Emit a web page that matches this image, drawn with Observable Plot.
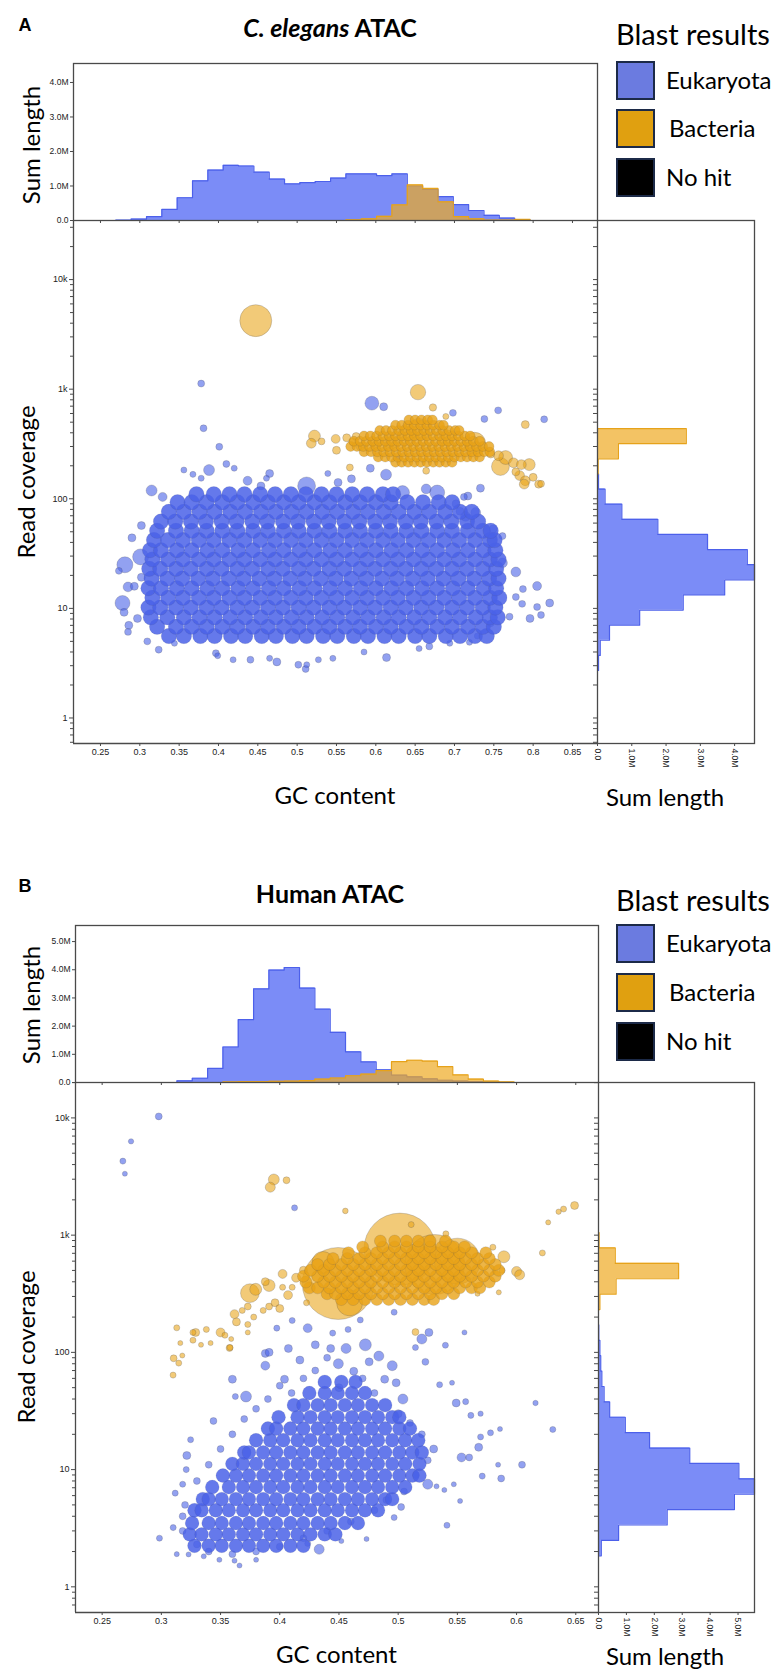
<!DOCTYPE html>
<html><head><meta charset="utf-8">
<script src="https://cdn.jsdelivr.net/npm/d3@7"></script>
<script src="https://cdn.jsdelivr.net/npm/@observablehq/plot@0.6"></script>
<style>
body{margin:0;background:#fff;}
#root{position:relative;width:774px;height:1671px;overflow:hidden;font-family:Lato,"Open Sans",sans-serif;color:#000;}
</style></head><body><div id="root"></div>
<script>
// ---------------- DATA ----------------
const legendNames = ["Eukaryota", "Bacteria", "No hit"];
const gcTicksA = [0.25,0.3,0.35,0.4,0.45,0.5,0.55,0.6,0.65,0.7,0.75,0.8,0.85];
const gcTicksB = [0.25,0.3,0.35,0.4,0.45,0.5,0.55,0.6,0.65];
const covMajor = [1,10,100,1000,10000];
const lenTicksA = [0,1e6,2e6,3e6,4e6];
const lenTicksB = [0,1e6,2e6,3e6,4e6,5e6];

// top histograms (sum length in M per GC bin)
const binA = {start:0.2695, width:0.0195};
const eukA_top = [0.01,0.04,0.11,0.32,0.66,1.15,1.46,1.6,1.58,1.4,1.2,1.06,1.1,1.13,1.23,1.35,1.35,1.3,1.35,1.0,0.9,0.69,0.46,0.29,0.15,0.07,0.02];
const eukA_topFirst = 0;
const bacA_top = [0.02,0.05,0.12,0.45,1.03,0.93,0.54,0.11,0.05,0.01,0.01,0.03];
const bacA_topFirst = 15;
const binB = {start:0.3132, width:0.01294};
const eukB_top = [0.06,0.15,0.5,1.26,2.23,3.32,3.99,4.08,3.35,2.6,1.78,1.09,0.73,0.45,0.26,0.2,0.13,0.08,0.05,0.03,0.01];
const eukB_topFirst = 0;
const bacB_top = [0.02,0.03,0.03,0.04,0.05,0.07,0.12,0.16,0.24,0.3,0.42,0.74,0.79,0.76,0.56,0.27,0.12,0.05,0.02];
const bacB_topFirst = 3;

// right histograms (sum length in M per log10 coverage bin, from the top bin down)
const logBinA = {top:2.641, width:0.138};
const bacA_right = [2.59,0.61,0.02];
const bacA_rightFirst = 0;
const eukA_right = [0.03,0.22,0.71,1.76,3.21,4.37,4.58,3.71,2.5,1.23,0.35,0.08,0.03];
const eukA_rightFirst = 3;
const logBinB = {top:3.022, width:0.1313};
const bacB_right = [0.02,0.6,2.87,0.63,0.05];
const bacB_rightFirst = 0;
const eukB_right = [0.01,0.05,0.08,0.12,0.2,0.4,0.96,1.83,3.27,5.03,5.59,4.87,2.46,0.72,0.1];
const eukB_rightFirst = 6;

// scatter: individual contigs [GC, coverage, length kb]
const eukA_pts = [
[0.378,1125,3],[0.381,440,3],[0.401,298,3],[0.356,183,2.3],[0.388,183,7.5],[0.3675,167,2.3],[0.41,208,3],[0.42,190,2.3],[0.378,154,2.3],[0.315,119,7.5],[0.329,104,5],
[0.595,745,12],[0.61,692,4],[0.698,608,3],[0.738,535,3],[0.7555,641,3],[0.814,531,3],[0.593,190,4],[0.569,152,4],[0.613,166,7.5],[0.629,233,2.3],[0.465,170,4],[0.461,154,2.3],
[0.539,170,2.3],[0.512,131,20],[0.678,114,14],[0.664,123,6],[0.733,125,4],[0.717,106,4],[0.634,114,12],[0.437,146,5],[0.454,131,4],[0.552,141,4],
[0.281,25,16],[0.278,11.2,14],[0.2734,22,3],[0.301,29.5,16],[0.29,44,4],[0.302,57,4],[0.285,15.7,6],[0.28,9.2,4],[0.286,7,4],[0.285,6.1,3],[0.3095,5,3],[0.324,4.2,3],[0.297,8.1,4],[0.293,15.9,4],[0.302,19.2,4],
[0.805,16,5],[0.821,11.2,4],[0.796,8.1,4],[0.81,8.7,3],[0.805,10.3,3],[0.786,11,3],[0.787,15,3],[0.778,21.5,6],[0.761,26,6],[0.761,45.7,3],[0.749,53,4],[0.778,12.7,3],[0.77,8.4,3],[0.746,7.3,3],[0.729,5.6,2.3],[0.719,4.9,2.3],
[0.727,75,6],[0.707,77,4],[0.714,69,6],[0.702,90,4],[0.712,104,3],
[0.4406,3.4,3],[0.4186,3.4,2.3],[0.4742,3.25,4],[0.465,3.5,2.3],[0.5015,3.06,3],[0.5108,2.8,3],[0.5122,3.06,2.3],[0.527,3.4,2.3],[0.5454,3.5,2.3],[0.6136,3.56,4],[0.3967,3.9,3],[0.399,3.7,2.3],[0.668,4.5,3],[0.655,4.3,2.3],[0.694,4.8,2.3],[0.585,4,2.3],[0.344,4.8,2.3]
];
// dense core, one row per coverage level: [coverage, [GC values]]
const eukA_coreSize = 15;
const eukA_core = [
[5.6,[0.337,0.356,0.377,0.395,0.416,0.434,0.455,0.473,0.494,0.512,0.533,0.551,0.572,0.59,0.611,0.629,0.65,0.668,0.689,0.707,0.726,0.741]],
[6.8,[0.322,0.346,0.366,0.385,0.405,0.424,0.444,0.463,0.483,0.502,0.522,0.541,0.561,0.58,0.6,0.619,0.639,0.658,0.678,0.697,0.717,0.736,0.75]],
[8.3,[0.314,0.335,0.356,0.376,0.395,0.415,0.434,0.454,0.473,0.493,0.512,0.532,0.551,0.571,0.59,0.61,0.629,0.649,0.668,0.688,0.707,0.727,0.745,0.755]],
[10.2,[0.311,0.326,0.346,0.365,0.385,0.404,0.424,0.443,0.463,0.482,0.502,0.521,0.541,0.56,0.58,0.599,0.619,0.638,0.658,0.677,0.697,0.716,0.736,0.752]],
[12.5,[0.316,0.336,0.355,0.375,0.394,0.414,0.433,0.453,0.472,0.492,0.511,0.531,0.55,0.57,0.589,0.609,0.628,0.648,0.667,0.687,0.706,0.726,0.745,0.757]],
[15.3,[0.311,0.327,0.347,0.366,0.386,0.405,0.425,0.444,0.464,0.483,0.503,0.522,0.542,0.561,0.581,0.6,0.62,0.639,0.659,0.678,0.698,0.717,0.737,0.753]],
[18.7,[0.315,0.335,0.354,0.374,0.393,0.413,0.432,0.452,0.471,0.491,0.51,0.53,0.549,0.569,0.588,0.608,0.627,0.647,0.666,0.686,0.705,0.725,0.744,0.756]],
[23,[0.312,0.326,0.346,0.365,0.385,0.404,0.424,0.443,0.463,0.482,0.502,0.521,0.541,0.56,0.58,0.599,0.619,0.638,0.658,0.677,0.697,0.716,0.736,0.753]],
[28,[0.316,0.336,0.355,0.375,0.394,0.414,0.433,0.453,0.472,0.492,0.511,0.531,0.55,0.57,0.589,0.609,0.628,0.648,0.667,0.687,0.706,0.726,0.745,0.756]],
[34,[0.313,0.327,0.347,0.366,0.386,0.405,0.425,0.444,0.464,0.483,0.503,0.522,0.542,0.561,0.581,0.6,0.62,0.639,0.659,0.678,0.698,0.717,0.737,0.752]],
[42,[0.318,0.336,0.355,0.375,0.394,0.414,0.433,0.453,0.472,0.492,0.511,0.531,0.55,0.57,0.589,0.609,0.628,0.648,0.667,0.687,0.706,0.726,0.745,0.751]],
[51,[0.322,0.346,0.366,0.385,0.405,0.424,0.444,0.463,0.483,0.502,0.522,0.541,0.561,0.58,0.6,0.619,0.639,0.658,0.678,0.697,0.717,0.736,0.746]],
[62,[0.327,0.345,0.365,0.384,0.404,0.423,0.443,0.462,0.482,0.501,0.521,0.54,0.56,0.579,0.599,0.618,0.638,0.657,0.677,0.696,0.716,0.73]],
[76,[0.337,0.356,0.376,0.395,0.415,0.434,0.454,0.473,0.493,0.512,0.532,0.551,0.571,0.59,0.61,0.629,0.649,0.668,0.688,0.707,0.722]],
[93,[0.348,0.366,0.385,0.405,0.424,0.444,0.463,0.483,0.502,0.522,0.541,0.561,0.58,0.6,0.619,0.64,0.66,0.68,0.697]],
[110,[0.372,0.394,0.414,0.433,0.453,0.472,0.492,0.511,0.531,0.55,0.57,0.589,0.609,0.622]]
];
const bacA_pts = [
[0.4474,4220,64],[0.6536,940,15],[0.6726,681,3.4],[0.79,475,4],[0.689,564,2.3],[0.522,373,9],[0.518,321,6],[0.531,334,3],[0.549,352,5],[0.55,277,4],[0.567,193,3],[0.664,180,3],
[0.7257,321,30],[0.7584,197,20],[0.765,238,12],[0.775,213,6],[0.785,205,6],[0.795,205,9],[0.7828,163,6],[0.79,146,6],[0.8,157,4],[0.807,136,4],[0.81,137,3],[0.7886,136,6],[0.778,176,4],[0.756,247,6],[0.746,256,4],
[0.563,360,4],[0.571,330,4],[0.58,300,4],[0.575,370,4],
[0.655,430,30],[0.64,400,20],[0.69,360,16],[0.62,330,12],[0.6,320,9]
];
const bacA_coreSize = 6;
const bacA_core = [
[215,[0.625,0.633,0.641,0.649,0.657,0.665,0.673,0.681,0.689,0.697]],
[240,[0.603,0.612,0.62,0.628,0.636,0.644,0.652,0.66,0.668,0.676,0.684,0.692,0.7,0.708,0.716,0.724,0.732]],
[268,[0.585,0.594,0.602,0.61,0.618,0.626,0.634,0.642,0.65,0.658,0.666,0.674,0.682,0.69,0.698,0.706,0.714,0.722,0.73,0.738,0.745]],
[300,[0.568,0.576,0.584,0.592,0.6,0.608,0.616,0.624,0.632,0.64,0.648,0.656,0.664,0.672,0.68,0.688,0.696,0.704,0.712,0.72,0.728,0.736,0.744]],
[335,[0.572,0.58,0.588,0.596,0.604,0.612,0.62,0.628,0.636,0.644,0.652,0.66,0.668,0.676,0.684,0.692,0.7,0.708,0.716,0.724,0.732]],
[375,[0.585,0.593,0.601,0.609,0.617,0.625,0.633,0.641,0.649,0.657,0.665,0.673,0.681,0.689,0.697,0.705,0.713,0.72]],
[420,[0.605,0.613,0.621,0.629,0.637,0.645,0.653,0.661,0.669,0.677,0.685,0.693,0.701,0.706]],
[470,[0.625,0.633,0.641,0.649,0.657,0.665,0.673,0.681,0.686]],
[525,[0.642,0.65,0.658,0.666,0.672]]
];

const eukB_pts = [
[0.2978,10300,3],[0.2744,6310,1.8],[0.2675,4280,2.3],[0.2692,3340,1.6],[0.4125,1710,2.3],[0.4966,220,2.3],[0.556,148,1.6],[0.5399,115,2.3],[0.526,148,4],[0.52,130,6.3],[0.5146,110,2.3],[0.523,83,3],[0.535,53,2.3],[0.5455,55,1.6],[0.549,37,4],[0.557,38,2.3],[0.616,37,1.8],[0.6306,22,2.3],[0.6046,11,3],[0.587,8.4,3],[0.5844,11,1.6],[0.571,8.8,2.3],[0.568,15.5,4],[0.56,12.7,3],[0.5535,12.7,5],[0.5696,19,2.3],[0.578,20.6,2.3],[0.586,22.2,1.6],[0.5614,29,2.3],[0.5696,30,1.8],
[0.5412,3.35,2.3],[0.5523,5.4,1.6],[0.547,7.5,1.6],[0.539,6.7,1.6],[0.5324,7.2,1.6],[0.525,7.5,6.3],[0.5025,4.8,3],[0.4966,3.9,2.3],[0.4733,2.56,1.6],[0.452,2.46,1.6],[0.4333,2.09,6.3],[0.4236,2.34,2.3],[0.38,1.7,1.6],[0.366,1.52,1.6],[0.3618,1.67,1.6],[0.349,1.7,1.6],[0.3358,1.82,1.6],[0.323,1.89,1.6],[0.313,1.9,1.6],[0.2984,2.6,2.3],[0.31,3.2,2.3],[0.3117,6.3,2.3],[0.3215,13.2,4],[0.3247,18,2.3],[0.321,10,2.3],[0.318,7.5,2.3],
[0.344,26,3],[0.36,59,4],[0.3625,42,2.3],[0.3715,42,7.5],[0.3878,98,4],[0.391,100,4],[0.3975,161,2.3],[0.4105,187,2.3],[0.4236,161,5],[0.4073,108,4],[0.3878,77,5],[0.404,59,4],[0.4447,146,2.3],[0.4577,157,2.3],[0.468,189,2.3],[0.4723,116,9],[0.4837,93,6.3],[0.495,77,6.3],[0.4886,59,4],[0.504,40,6.3],[0.4983,55,4],[0.4755,83,4],[0.456,108,6.3],[0.443,108,4],[0.43,116,4],[0.417,86,4],[0.4495,80,6.3],[0.4625,69,4],
[0.43,70,3],[0.44,90,3],[0.47,60,3],[0.41,45,3],[0.45,50,4],[0.48,45,3],[0.5,30,4],[0.51,25,3],[0.52,20,3],[0.53,15,4],[0.525,12,3],[0.515,9,3],[0.505,6.5,3],[0.49,5.5,3],[0.48,4.5,3],[0.46,3.6,3],[0.44,3.0,3],[0.42,2.6,3],[0.4,2.2,3],[0.38,2.0,3],[0.36,1.9,3],[0.34,2.0,3],[0.33,2.3,3],[0.318,3,3],[0.318,4,3],[0.32,5,3],[0.33,8,3],[0.34,11,3],[0.35,15,3],[0.36,20,3],[0.37,27,3],[0.38,33,3],[0.39,40,3],[0.4,52,3],[0.42,60,3]
];
const eukB_coreSize = 12;
const eukB_core = [
[2.24,[0.328,0.34,0.351,0.363,0.374,0.386,0.397,0.409,0.42]],
[2.8,[0.324,0.334,0.346,0.357,0.369,0.38,0.392,0.403,0.415,0.426,0.438,0.447]],
[3.5,[0.326,0.34,0.351,0.363,0.374,0.386,0.397,0.409,0.42,0.432,0.443,0.455,0.466]],
[4.5,[0.328,0.334,0.346,0.357,0.369,0.38,0.392,0.403,0.415,0.426,0.438,0.449,0.461,0.472,0.483]],
[5.6,[0.335,0.34,0.351,0.363,0.374,0.386,0.397,0.409,0.42,0.432,0.443,0.455,0.466,0.478,0.489,0.495]],
[7.1,[0.343,0.357,0.369,0.38,0.392,0.403,0.415,0.426,0.438,0.449,0.461,0.472,0.483,0.495,0.506]],
[8.9,[0.352,0.363,0.374,0.386,0.397,0.409,0.42,0.432,0.443,0.455,0.466,0.478,0.489,0.501,0.512,0.518]],
[11.2,[0.36,0.369,0.38,0.392,0.403,0.415,0.426,0.438,0.449,0.461,0.472,0.483,0.495,0.506,0.518]],
[14,[0.37,0.374,0.386,0.397,0.409,0.42,0.432,0.443,0.455,0.466,0.478,0.489,0.501,0.512,0.52]],
[17.8,[0.38,0.392,0.403,0.415,0.426,0.438,0.449,0.461,0.472,0.483,0.495,0.506,0.517]],
[22.4,[0.39,0.397,0.409,0.42,0.432,0.443,0.455,0.466,0.478,0.489,0.501,0.51]],
[28,[0.399,0.415,0.426,0.438,0.449,0.461,0.472,0.483,0.495,0.501]],
[35.5,[0.412,0.42,0.432,0.443,0.455,0.466,0.478,0.489]],
[45,[0.425,0.438,0.449,0.461,0.472]],
[56,[0.438,0.452,0.464]]
];
const bacB_pts = [
[0.4494,387,324],[0.5015,760,324],[0.5308,562,225],[0.55,600,132],[0.459,264,42],[0.4365,585,30],[0.3748,320,22],[0.3797,345,9],[0.4024,467,5],[0.391,372,9],[0.407,308,5],[0.3878,401,4],[0.3618,212,5],[0.3634,182,4],[0.3683,228,2.3],[0.373,246,3],[0.391,246,3],[0.386,228,2.3],[0.396,265,4],[0.4,237,4],[0.4024,359,2.3],[0.4138,433,5],[0.42,502,4],[0.4226,265,2.3],[0.4105,359,2.3],[0.373,173,2.3],[0.378,200,2.3],[0.3576,109,3],
[0.395,2985,7.5],[0.392,2565,6.3],[0.4057,2940,3],[0.4554,1610,2],[0.511,1230,2.3],[0.5403,1026,2.3],[0.58,789,2.3],[0.5893,654,9],[0.6218,705,2.3],[0.6267,1285,1.6],[0.6355,1585,1.8],[0.6397,1670,2.3],[0.649,1790,4],[0.6,490,6.3],[0.6026,459,6.3],[0.5878,500,2.3],[0.585,325,1.6],[0.567,316,1.6],[0.5146,149,3],
[0.313,162,2.3],[0.316,120,1.6],[0.3104,89,3],[0.3147,81,2.3],[0.3177,94,1.6],[0.3099,64,2.3],[0.3267,148,2.3],[0.329,148,4],[0.3335,116,1.6],[0.338,157,2.3],[0.3416,120,1.6],[0.35,148,5],[0.3537,140,2.3],[0.358,110,2.3],[0.359,130,1.6],[0.373,148,1.6],[0.3267,127,2.3]
];
const bacB_coreSize = 9;
const bacB_core = [
[282,[0.452,0.462,0.472,0.482,0.492,0.502,0.512,0.522,0.53]],
[316,[0.44,0.447,0.457,0.467,0.477,0.487,0.497,0.507,0.517,0.527,0.537,0.547]],
[355,[0.425,0.432,0.442,0.452,0.462,0.472,0.482,0.492,0.502,0.512,0.522,0.532,0.542,0.552,0.562,0.569]],
[398,[0.422,0.437,0.447,0.457,0.467,0.477,0.487,0.497,0.507,0.517,0.527,0.537,0.547,0.557,0.567,0.577]],
[447,[0.42,0.432,0.442,0.452,0.462,0.472,0.482,0.492,0.502,0.512,0.522,0.532,0.542,0.552,0.562,0.572,0.582]],
[501,[0.426,0.437,0.447,0.457,0.467,0.477,0.487,0.497,0.507,0.517,0.527,0.537,0.547,0.557,0.567,0.577,0.585]],
[562,[0.432,0.442,0.452,0.462,0.472,0.482,0.492,0.502,0.512,0.522,0.532,0.542,0.552,0.562,0.572,0.582]],
[631,[0.445,0.457,0.467,0.477,0.487,0.497,0.507,0.517,0.527,0.537,0.547,0.557,0.567,0.577]],
[708,[0.458,0.472,0.482,0.492,0.502,0.512,0.522,0.532,0.542,0.552,0.562,0.574]],
[794,[0.47,0.487,0.497,0.507,0.517,0.527,0.537,0.547,0.556]],
[891,[0.485,0.497,0.507,0.517,0.527,0.54]]
];

// ---------------- STYLE ----------------
const C_EUK = "#4a62e8", C_BAC = "#e8a317";
const H_EUK = "#7b8cf7", H_EUK_S = "#4c60ea", H_BAC = "#eeaa22", H_BAC_S = "#e6a21a";
const AX = "#4a4a4a";
const fmtM = d => d === 0 ? "0.0" : (d / 1e6).toFixed(1) + "M";
const fmtLog = d => d >= 1000 ? (d / 1000) + "k" : String(d);

const root = document.getElementById("root");
function place(el, left, top) { el.style.position = "absolute"; el.style.left = left + "px"; el.style.top = top + "px"; root.appendChild(el); }
function label(html, x, y, css, mode) {
  const d = document.createElement("div");
  d.innerHTML = html;
  d.style.cssText = `position:absolute;left:${x}px;top:${y}px;white-space:nowrap;line-height:1;` + css;
  d.style.transform = mode === "v" ? "translate(-50%,-50%) rotate(-90deg)" : mode === "l" ? "translate(0,-50%)" : "translate(-50%,-50%)";
  root.appendChild(d);
}
const toPts = arr => arr.map(([gc, cov, s]) => ({gc, cov, s}));
const fromCore = (rows, s) => rows.flatMap(([cov, gcs]) => gcs.map(gc => ({gc, cov, s})));
function stepsX(bin, first, vals) {
  const pts = [{x: bin.start + first * bin.width, y: 0}];
  vals.forEach((v, i) => { const a = bin.start + (first + i) * bin.width; pts.push({x: a, y: v * 1e6}, {x: a + bin.width, y: v * 1e6}); });
  pts.push({x: bin.start + (first + vals.length) * bin.width, y: 0});
  return pts;
}
function stepsY(bin, first, vals) {
  const e = k => Math.pow(10, bin.top - k * bin.width);
  const pts = [{y: e(first), x: 0}];
  vals.forEach((v, i) => { pts.push({y: e(first + i), x: v * 1e6}, {y: e(first + i + 1), x: v * 1e6}); });
  pts.push({y: e(first + vals.length), x: 0});
  return pts;
}
const plotStyle = {background: "transparent", overflow: "visible", fontFamily: "'Liberation Sans', Arial, sans-serif", color: "#222"};

const panels = [
  {letter: "A", title: "<i>C. elegans</i> ATAC", oy: 0,
   xDom: [0.2157, 0.8818], yDom: [0.585, 34600], topMax: 4.55e6, rightMax: 4.58e6,
   left: 73, right: 597, histTop: 63, plotTop: 220, plotBottom: 743, gcTicks: gcTicksA, lenTicks: lenTicksA,
   eukTop: stepsX(binA, eukA_topFirst, eukA_top), bacTop: stepsX(binA, bacA_topFirst, bacA_top),
   eukRight: stepsY(logBinA, eukA_rightFirst, eukA_right), bacRight: stepsY(logBinA, bacA_rightFirst, bacA_right),
   eukPts: toPts(eukA_pts), eukCore: fromCore(eukA_core, eukA_coreSize),
   bacPts: toPts(bacA_pts), bacCore: fromCore(bacA_core, bacA_coreSize),
   text: {letterY: 25, titleY: 27, blastY: 33, boxY: [61, 109, 158], sumY: 145, readY: 482, gcY: 795}},
  {letter: "B", title: "Human ATAC", oy: 862,
   xDom: [0.2275, 0.6692], yDom: [0.604, 20050], topMax: 5.57e6, rightMax: 5.59e6,
   left: 75, right: 598, histTop: 925, plotTop: 1082, plotBottom: 1612, gcTicks: gcTicksB, lenTicks: lenTicksB,
   eukTop: stepsX(binB, eukB_topFirst, eukB_top), bacTop: stepsX(binB, bacB_topFirst, bacB_top),
   eukRight: stepsY(logBinB, eukB_rightFirst, eukB_right), bacRight: stepsY(logBinB, bacB_rightFirst, bacB_right),
   eukPts: toPts(eukB_pts), eukCore: fromCore(eukB_core, eukB_coreSize),
   bacPts: toPts(bacB_pts), bacCore: fromCore(bacB_core, bacB_coreSize),
   text: {letterY: 886, titleY: 893, blastY: 899, boxY: [924, 973, 1022], sumY: 1005, readY: 1347, gcY: 1654}}
];

const dotStyle = (fill, op, sop) => ({x: "gc", y: "cov", r: "s", fill, fillOpacity: op, stroke: "#4d4d55", strokeOpacity: sop, strokeWidth: 0.6});

for (const P of panels) {
  const logTicks = d3.scaleLog().domain(P.yDom).ticks();
  const minor = logTicks.filter(t => !covMajor.includes(t));
  const plotH = P.plotBottom - P.plotTop;

  // top histogram
  const top = Plot.plot({
    width: P.right + 3, height: (P.plotTop - P.histTop) + 16,
    marginLeft: P.left, marginRight: 3, marginTop: 8, marginBottom: 8,
    x: {domain: P.xDom}, y: {domain: [0, P.topMax]},
    style: plotStyle,
    marks: [
      Plot.area(P.eukTop, {x1: "x", y1: 0, y2: "y", fill: H_EUK}),
      Plot.line(P.eukTop, {x: "x", y: "y", stroke: H_EUK_S, strokeWidth: 1.2}),
      Plot.area(P.bacTop, {x1: "x", y1: 0, y2: "y", fill: H_BAC, fillOpacity: 0.7}),
      Plot.line(P.bacTop, {x: "x", y: "y", stroke: H_BAC_S, strokeWidth: 1.2}),
      Plot.frame({stroke: AX, strokeWidth: 1.3}),
      Plot.axisY(P.lenTicks, {tickSize: 3, tickPadding: 2, fontSize: 8.5, tickFormat: fmtM, label: null, stroke: AX}),
      Plot.axisX(P.gcTicks, {tickSize: 3, tickFormat: () => "", label: null, stroke: AX})
    ]
  });
  place(top, 0, P.histTop - 8);

  // scatter
  const sc = Plot.plot({
    width: P.right + 3, height: plotH + 30,
    marginLeft: P.left, marginRight: 3, marginTop: 0, marginBottom: 30,
    x: {domain: P.xDom}, y: {type: "log", domain: P.yDom}, r: {domain: [0, 400], range: [0, 40]},
    style: plotStyle,
    marks: [
      Plot.dot(P.eukPts, dotStyle(C_EUK, 0.6, 0.4)),
      Plot.dot(P.eukCore, dotStyle(C_EUK, 0.85, 0.18)),
      Plot.dot(P.bacPts, dotStyle(C_BAC, 0.58, 0.4)),
      Plot.dot(P.bacCore, dotStyle(C_BAC, 0.8, 0.25)),
      Plot.ruleX([P.xDom[0]], {stroke: AX, strokeWidth: 1.3}),
      Plot.ruleY([P.yDom[0]], {stroke: AX, strokeWidth: 1.3}),
      Plot.axisX(P.gcTicks, {tickSize: 3, tickPadding: 2, fontSize: 9, tickFormat: d => String(d), label: null, stroke: AX}),
      Plot.axisY(covMajor, {tickSize: 4, tickPadding: 2, fontSize: 9, tickFormat: fmtLog, label: null, stroke: AX}),
      Plot.axisY(minor, {tickSize: 3, tickFormat: () => "", label: null, stroke: AX})
    ]
  });
  place(sc, 0, P.plotTop);

  // right histogram
  const rw = 170, rLeft = 7, rRight = rw - rLeft - (754 - P.right);
  const rh = Plot.plot({
    width: rw, height: plotH + 30,
    marginLeft: rLeft, marginRight: rRight, marginTop: 0, marginBottom: 30,
    x: {domain: [0, P.rightMax]}, y: {type: "log", domain: P.yDom},
    style: plotStyle,
    marks: [
      Plot.area(P.eukRight, {y1: "y", x1: 0, x2: "x", fill: H_EUK}),
      Plot.line(P.eukRight, {x: "x", y: "y", stroke: H_EUK_S, strokeWidth: 1.2}),
      Plot.area(P.bacRight, {y1: "y", x1: 0, x2: "x", fill: H_BAC, fillOpacity: 0.7}),
      Plot.line(P.bacRight, {x: "x", y: "y", stroke: H_BAC_S, strokeWidth: 1.2}),
      Plot.frame({stroke: AX, strokeWidth: 1.3}),
      Plot.axisY(logTicks, {anchor: "left", tickSize: 4, tickFormat: () => "", label: null, stroke: AX}),
      Plot.axisX(P.lenTicks, {anchor: "bottom", tickSize: 3, tickPadding: 2, tickRotate: 90, fontSize: 8.5, tickFormat: fmtM, label: null, stroke: AX})
    ]
  });
  place(rh, P.right - rLeft, P.plotTop);

  // texts
  const T = P.text;
  label(P.letter, 25, T.letterY, "font-family:'Liberation Sans',Arial,sans-serif;font-weight:bold;font-size:18px;");
  label(P.title, 330, T.titleY, "font-weight:bold;font-size:25px;");
  label("Blast results", 616, T.blastY, "font-size:29px;", "l");
  const boxColors = ["#6b7be0", "#e0a010", "#000000"];
  legendNames.forEach((name, i) => {
    const b = document.createElement("div");
    b.style.cssText = `position:absolute;left:616px;top:${T.boxY[i]}px;width:35px;height:35px;background:${boxColors[i]};border:2px solid #1c2a48;`;
    root.appendChild(b);
    label(name, i === 1 ? 669 : 666, T.boxY[i] + 19, "font-size:24px;", "l");
  });
  label("Sum length", 31, T.sumY, "font-size:24px;", "v");
  label("Read coverage", 26, T.readY, "font-size:24px;", "v");
  label("GC content", (P.left + P.right) / 2, T.gcY, "font-size:24px;");
  label("Sum length", 665, T.gcY + 2, "font-size:24px;");
}
</script></body></html>
